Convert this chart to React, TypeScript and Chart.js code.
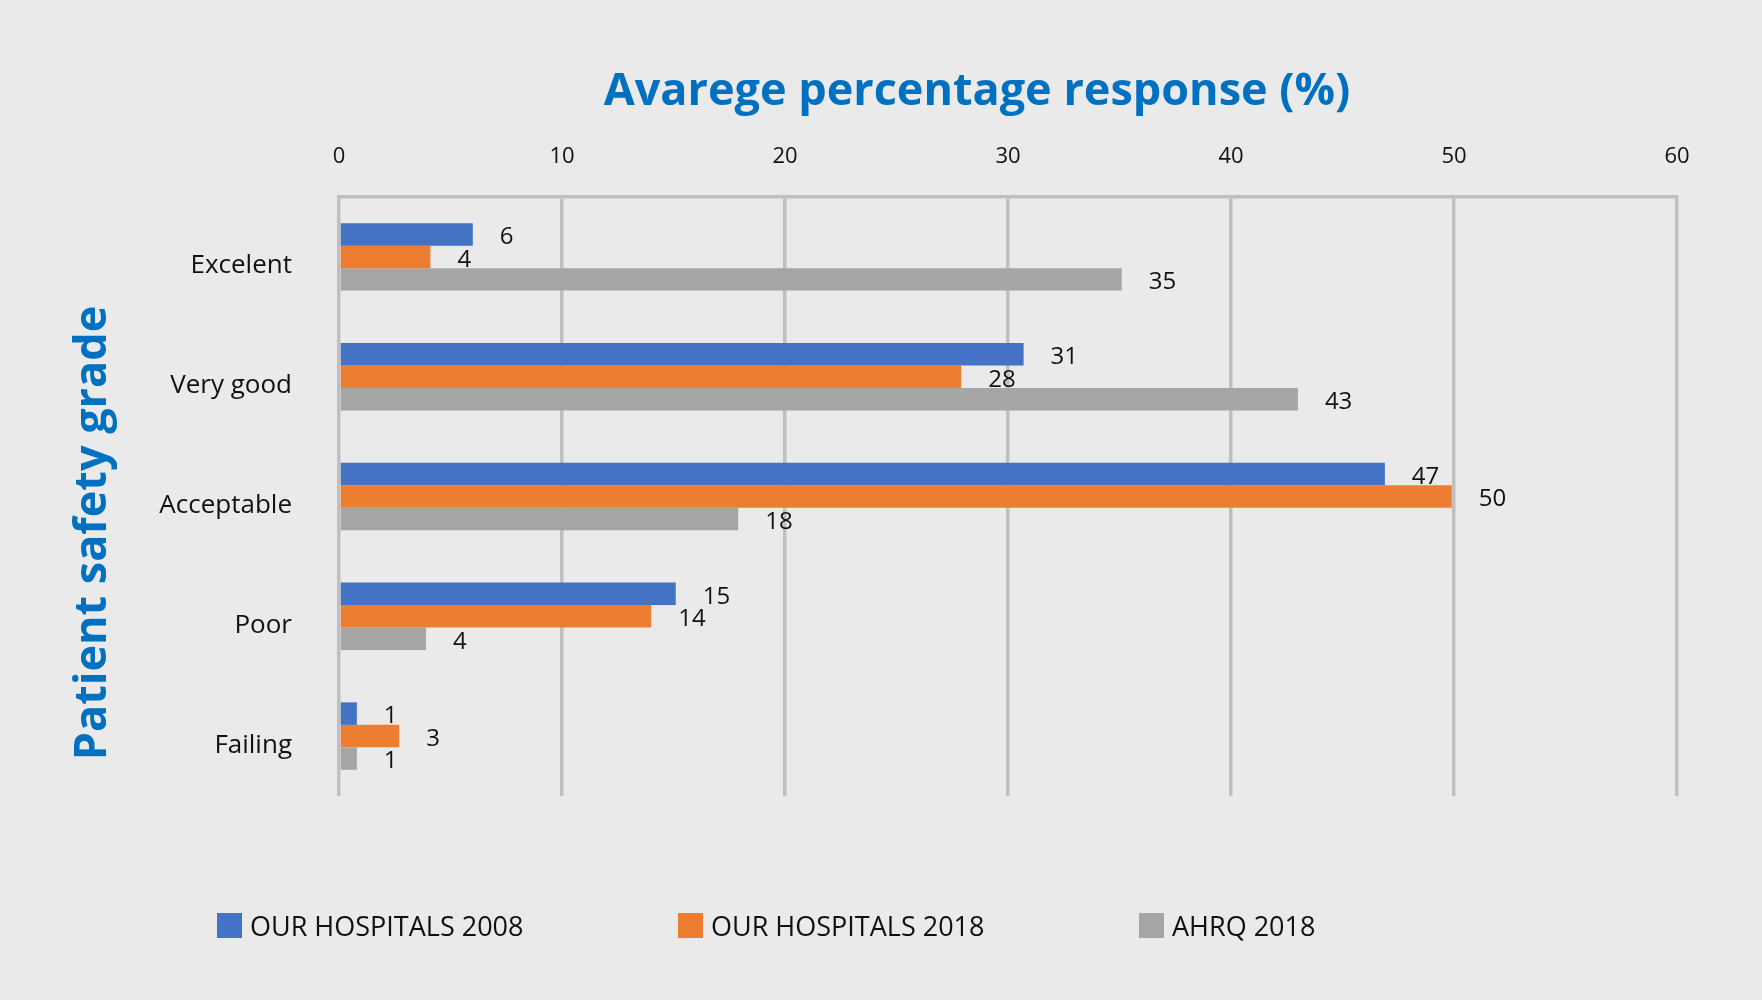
import { useEffect, useRef } from "react";
import { Chart, registerables } from "chart.js";

Chart.register(...registerables);

//  Data

const GRADES = ["Excelent", "Very good", "Acceptable", "Poor", "Failing"];

const HOSPITALS_2008 = [6, 30.7, 46.9, 15.1, 0.8];
const HOSPITALS_2018 = [4.1, 27.9, 49.9, 14, 2.7];
const AHRQ_2018 = [35.1, 43, 17.9, 3.9, 0.8];

const SERIES_NAMES = ["OUR HOSPITALS 2008", "OUR HOSPITALS 2018", "AHRQ 2018"];
const SERIES_VALUES = [HOSPITALS_2008, HOSPITALS_2018, AHRQ_2018];

const X_MIN = 0;
const X_MAX = 60;
const X_STEP = 10;

//  Styles

const COLORS = ["#4472C4", "#ED7D31", "#A5A5A5"];
const BG = "#EAEAEA";
const GRID = "#BFBFBF";
const INK = "#111111";
const BLUE_TITLE = "#0070C0";
const FONT = "'Open Sans', 'Noto Sans', sans-serif";

const W = 1762;
const H = 1000;

// value labels, drawn just past the end of each bar
const valueLabels = {
  id: "valueLabels",
  afterDatasetsDraw(chart: Chart) {
    const { ctx } = chart;
    ctx.save();
    ctx.font = `24px ${FONT}`;
    ctx.fillStyle = INK;
    ctx.textAlign = "left";
    ctx.textBaseline = "middle";
    chart.data.datasets.forEach((ds, i) => {
      chart.getDatasetMeta(i).data.forEach((bar: any, j) => {
        const v = ds.data[j] as number;
        ctx.fillText(String(Math.round(v)), bar.x + 27, bar.y + 3);
      });
    });
    ctx.restore();
  },
};

export default function App() {
  const canvasRef = useRef<HTMLCanvasElement>(null);

  useEffect(() => {
    if (!canvasRef.current) return;
    const chart = new Chart(canvasRef.current, {
      type: "bar",
      data: {
        labels: GRADES,
        datasets: SERIES_VALUES.map((data, i) => ({
          label: SERIES_NAMES[i],
          data,
          backgroundColor: COLORS[i],
          categoryPercentage: 0.563,
          barPercentage: 1,
        })),
      },
      options: {
        indexAxis: "y",
        responsive: false,
        animation: false,
        layout: { padding: { top: 120, right: 85, bottom: 204, left: 0 } },
        plugins: {
          legend: { display: false },
          tooltip: { enabled: false },
        },
        scales: {
          x: {
            position: "top",
            min: X_MIN,
            max: X_MAX,
            ticks: {
              stepSize: X_STEP,
              padding: 27,
              color: INK,
              font: { family: FONT, size: 22 },
            },
            grid: { color: GRID, lineWidth: 3.5, drawTicks: false },
            border: { display: true, color: GRID, width: 3.5 },
            afterFit: (s: any) => {
              s.height = 77;
            },
          },
          y: {
            grid: { display: false },
            border: { display: false },
            ticks: {
              padding: 39,
              labelOffset: 9,
              color: INK,
              font: { family: FONT, size: 26 },
            },
            afterFit: (s: any) => {
              s.width = 339;
            },
          },
        },
      },
      plugins: [valueLabels],
    });
    return () => chart.destroy();
  }, []);

  return (
    <div
      style={{
        position: "absolute",
        left: 0,
        top: 0,
        width: W,
        height: H,
        background: BG,
        fontFamily: FONT,
        overflow: "hidden",
      }}
    >
      <canvas
        ref={canvasRef}
        width={W}
        height={H}
        style={{ position: "absolute", left: 0, top: 0 }}
      />

      {/* Axis titles */}
      <div
        style={{
          position: "absolute",
          left: 977 - 500,
          top: 88 - 30,
          width: 1000,
          lineHeight: "60px",
          textAlign: "center",
          fontSize: 45,
          fontWeight: 700,
          color: BLUE_TITLE,
          whiteSpace: "nowrap",
        }}
      >
        Avarege percentage response (%)
      </div>
      <div
        style={{
          position: "absolute",
          left: 89 - 300,
          top: 533 - 30,
          width: 600,
          lineHeight: "60px",
          textAlign: "center",
          fontSize: 45,
          fontWeight: 700,
          color: BLUE_TITLE,
          whiteSpace: "nowrap",
          transform: "rotate(-90deg)",
        }}
      >
        Patient safety grade
      </div>

      {/* Legend */}
      <div
        style={{
          position: "absolute",
          left: 217,
          top: 905,
          display: "flex",
        }}
      >
        {SERIES_NAMES.map((name, i) => (
          <LegendItem key={name} label={name} color={COLORS[i]} />
        ))}
      </div>
    </div>
  );
}

function LegendItem({ label, color }: { label: string; color: string }) {
  return (
    <div
      style={{
        width: 461,
        display: "flex",
        alignItems: "center",
        height: 40,
      }}
    >
      <span
        style={{
          width: 25,
          height: 25,
          background: color,
          marginRight: 8,
          flexShrink: 0,
        }}
      />
      <span style={{ fontSize: 27, color: INK, whiteSpace: "nowrap" }}>
        {label}
      </span>
    </div>
  );
}
